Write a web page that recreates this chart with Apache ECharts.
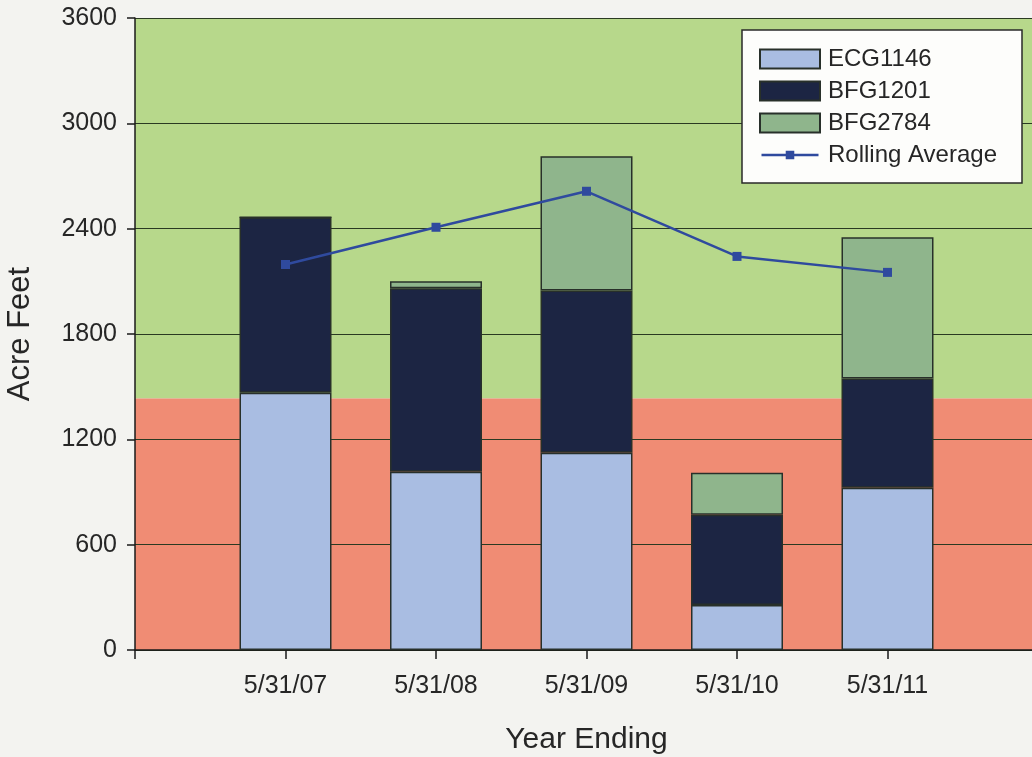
<!DOCTYPE html>
<html>
<head>
<meta charset="utf-8">
<script src="https://cdn.jsdelivr.net/npm/echarts@6/dist/echarts.min.js"></script>
<style>
html,body{margin:0;padding:0;background:#f3f3f0;}
#chart{width:1032px;height:757px;}
</style>
</head>
<body>
<div id="chart"></div>
<script>
// Categories (empty slots at both ends mimic the date axis padding)
const categories = ['', '5/31/07', '5/31/08', '5/31/09', '5/31/10', '5/31/11', ''];
const ecg1146 = [null, 1465, 1016, 1124, 257, 924, null];
const bfg1201 = [null, 1000, 1044, 924, 513, 622, null];
const bfg2784 = [null, 0, 40, 765, 240, 805, null];
const rollingAverage = [null, 2196, 2408, 2613, 2242, 2151, null];
const threshold = 1432;
const yMin = 0, yMax = 3600, yInterval = 600;

const chart = echarts.init(document.getElementById('chart'));
const font = 'Liberation Sans, Arial, sans-serif';
const border = {borderColor: '#28302a', borderWidth: 1.5};
const lineIcon = 'path://M0,0H0.01V0.01H0Z M0,8.7H60V11.3H0Z M25.5,5.5H34.5V14.5H25.5Z M59.99,19.99H60V20H59.99Z';

chart.setOption({
  backgroundColor: '#f3f3f0',
  animation: false,
  textStyle: {fontFamily: font},
  grid: {left: 135, top: 18, width: 903, height: 632, outerBoundsMode: 'none', containLabel: false},
  legend: {
    orient: 'vertical',
    left: 742, top: 30,
    backgroundColor: '#fdfdfb',
    borderColor: '#2a2a2a', borderWidth: 1.5,
    padding: [17, 25, 16, 17],
    itemWidth: 60, itemHeight: 19, itemGap: 8,
    textStyle: {fontSize: 24, color: '#262626', fontFamily: font, padding: [0, 0, 0, 3]},
    data: [
      {name: 'ECG1146', icon: 'rect'},
      {name: 'BFG1201', icon: 'rect'},
      {name: 'BFG2784', icon: 'rect'},
      {name: 'Rolling Average', icon: lineIcon, itemStyle: {color: '#2f4a9e', borderWidth: 0}}
    ]
  },
  xAxis: {
    type: 'category',
    data: categories,
    boundaryGap: false,
    name: 'Year Ending',
    nameLocation: 'middle',
    nameGap: 75,
    nameTextStyle: {fontSize: 30, color: '#262626', fontFamily: font},
    axisLine: {lineStyle: {color: '#1a1a1a', width: 1.5}},
    axisTick: {show: true, length: 9, interval: 0, lineStyle: {color: '#1a1a1a', width: 1.5}},
    axisLabel: {interval: 0, fontSize: 25, color: '#262626', margin: 24, fontFamily: font},
    z: 1.5
  },
  yAxis: {
    type: 'value',
    min: yMin, max: yMax, interval: yInterval,
    name: 'Acre Feet',
    nameLocation: 'middle',
    nameGap: 99,
    nameTextStyle: {fontSize: 31, color: '#262626', fontFamily: font},
    axisLine: {show: true, lineStyle: {color: '#1a1a1a', width: 1.5}},
    axisTick: {show: true, length: 8, lineStyle: {color: '#1a1a1a', width: 1.5}},
    axisLabel: {fontSize: 25, color: '#262626', margin: 18, fontFamily: font, formatter: v => String(v)},
    splitLine: {show: true, lineStyle: {color: '#2a3a22', width: 1.2}},
    z: 1.5
  },
  series: [
    {
      name: 'ECG1146', type: 'bar', stack: 'total', barWidth: 92,
      data: ecg1146,
      itemStyle: Object.assign({color: '#a9bde2'}, border),
      markArea: {
        silent: true,
        z: 0.5,
        itemStyle: {opacity: 1},
        data: [
          [{yAxis: threshold, itemStyle: {color: '#b7d88b'}}, {yAxis: yMax}],
          [{yAxis: yMin, itemStyle: {color: '#f08c74'}}, {yAxis: threshold}]
        ]
      }
    },
    {
      name: 'BFG1201', type: 'bar', stack: 'total', barWidth: 92,
      data: bfg1201,
      itemStyle: Object.assign({color: '#1c2543'}, border)
    },
    {
      name: 'BFG2784', type: 'bar', stack: 'total', barWidth: 92,
      data: bfg2784,
      itemStyle: Object.assign({color: '#8fb58c'}, border)
    },
    {
      name: 'Rolling Average', type: 'line',
      data: rollingAverage,
      symbol: 'rect', symbolSize: 9,
      lineStyle: {color: '#2f4a9e', width: 2.5},
      itemStyle: {color: '#2f4a9e'},
      z: 5
    }
  ]
});
</script>
</body>
</html>
